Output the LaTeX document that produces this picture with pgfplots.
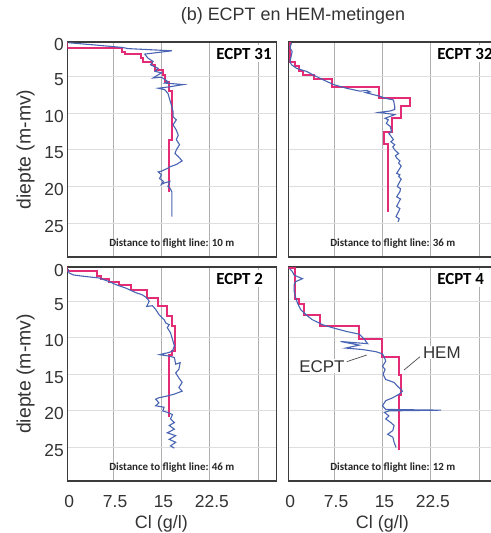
\documentclass[border=0pt]{standalone}
\usepackage{fontspec}
\setmainfont{Liberation Sans}
\newfontfamily\calfont{Carlito}
\usepackage{pgfplots}
\pgfplotsset{compat=1.18}

\definecolor{ecptblue}{RGB}{72,100,178}
\definecolor{hemred}{RGB}{228,44,118}
\definecolor{boxgray}{RGB}{60,60,60}
\definecolor{vgrid}{RGB}{175,175,178}
\definecolor{hgrid}{RGB}{222,222,225}

\pgfplotsset{
  panel/.style={
    anchor=north west, scale only axis, width=209bp,
    xmin=0.4, xmax=32.8, ymin=0.3, ymax=29.6, y dir=reverse,
    axis line style={draw=boxgray, line width=1.4pt},
    xtick={0.4,7.5,15,22.5,30}, ytick={0.3,5,10,15,20,25},
    xticklabels={}, yticklabels={},
    major tick length=0pt,
    xmajorgrids, ymajorgrids,
    x grid style={vgrid, line width=0.9pt},
    y grid style={hgrid, line width=0.9pt},
    tick label style={font=\fontsize{17.5}{18}\selectfont, text=black!80},
    label style={font=\fontsize{18}{20}\selectfont, text=black!80},
  },
  leftp/.style={yticklabels={0,5,10,15,20,25},
    yticklabel style={yshift=-3bp},
    ylabel={diepte (m-mv)},
    ylabel style={at={(axis description cs:-0.2,0.5)}, anchor=center,
      font=\fontsize{19.5}{20}\selectfont, text=black!80}},
  botp/.style={xticklabels={0,7.5,15,22.5,{}},
    xticklabel style={xshift=2bp, yshift=-11bp},
    xlabel={Cl (g/l)},
    xlabel style={at={(axis description cs:0.45,-0.2)}, anchor=center}},
  hemline/.style={color=hemred, line width=2pt, mark=none},
  ecptline/.style={color=ecptblue, line width=1.1pt, mark=none},
}

\newcommand{\panellabels}[2]{%
  \node[anchor=north west, fill=white, inner sep=3bp, font=\calfont\bfseries\fontsize{17}{18}\selectfont]
    at (axis cs:23.0,0.3) [yshift=-3bp] {#1};
  \node[anchor=center, inner sep=1bp, font=\calfont\bfseries\fontsize{11}{12}\selectfont, text=black!85]
    at (axis cs:16.6,29.6) [yshift=13bp] {Distance to flight line: #2};
}

\begin{document}
\begin{tikzpicture}

\node[font=\fontsize{18}{20}\selectfont, text=black!80] at (293bp,517bp) {(b) ECPT en HEM-metingen};

% ECPT 31
\begin{axis}[panel, leftp, height=215bp, at={(67.3bp,491bp)}]
\addplot[hemline] coordinates {(0.4,0.3)(0.4,1.15)(8.9,1.15)(8.9,1.6)(9.3,1.6)(9.3,2.0)(11.8,2.0)(11.8,2.5)(12.2,2.5)(12.2,3.0)(13.5,3.0)(13.5,3.5)(14.0,3.5)(14.0,4.1)(15.2,4.1)(15.2,4.8)(15.6,4.8)(15.6,5.8)(16.2,5.8)(16.2,7.0)(16.6,7.0)(16.6,13.6)(16.2,13.6)(16.2,20.7)};
\addplot[ecptline] coordinates {(0.6,0.4)(4.6,0.7)(9.0,1.05)(9.8,1.2)(16.6,1.5)(12.4,1.95)(12.9,2.5)(13.7,2.95)(13.3,3.4)(14.5,3.9)(14.0,4.3)(15.0,4.5)(13.7,5.2)(15.0,5.1)(16.0,5.7)(15.5,5.9)(18.4,6.1)(16.3,6.4)(14.5,6.6)(15.5,6.8)(16.0,7.3)(16.3,8.2)(16.6,9.1)(16.8,9.8)(16.8,10.5)(17.3,10.9)(16.8,11.6)(17.3,12.3)(17.6,13.0)(17.3,13.6)(17.8,14.3)(17.3,15.0)(17.1,15.5)(17.6,15.9)(18.2,16.5)(17.3,17.0)(16.3,17.3)(16.0,17.5)(15.0,17.9)(14.5,18.0)(15.0,18.4)(14.7,18.9)(15.3,19.3)(15.0,19.7)(15.5,19.5)(16.3,19.3)(16.0,20.0)(16.3,20.2)(16.6,20.7)(16.6,24.1)};
\panellabels{ECPT 31}{10 m}
\end{axis}

% ECPT 32
\begin{axis}[panel, height=215bp, at={(288.3bp,491bp)}]
\addplot[hemline] coordinates {(0.66,0.3)(0.66,3.0)(1.4,3.0)(1.4,3.6)(2.0,3.6)(2.0,4.3)(2.7,4.3)(2.7,4.8)(4.4,4.8)(4.4,5.4)(7.1,5.4)(7.1,6.5)(14.4,6.5)(14.4,7.9)(19.2,7.9)(19.2,9.0)(17.9,9.0)(17.9,10.6)(16.4,10.6)(16.4,12.6)(15.3,12.6)(15.3,14.2)(15.9,14.2)(15.9,23.4)};
\addplot[ecptline] coordinates {(0.9,0.4)(0.66,1.1)(1.0,1.6)(0.9,2.0)(0.66,3.0)(0.9,3.4)(1.7,3.9)(3.2,4.3)(4.3,4.8)(5.8,5.45)(7.4,6.1)(9.4,6.6)(11.5,7.0)(12.6,6.9)(13.1,7.1)(12.4,7.2)(14.6,7.7)(15.6,8.0)(16.7,8.2)(16.9,9.1)(16.9,9.5)(16.2,9.7)(14.4,9.9)(16.2,10.1)(16.9,10.2)(15.4,10.7)(15.9,10.9)(15.6,11.4)(16.2,11.8)(16.4,12.5)(16.0,12.8)(16.2,13.0)(16.7,13.6)(16.3,13.9)(16.9,14.3)(16.6,14.6)(16.9,15.0)(17.5,15.5)(17.0,15.8)(17.2,16.1)(17.7,16.5)(17.5,16.8)(17.9,17.2)(17.7,17.5)(17.2,18.2)(17.7,18.4)(17.5,18.6)(17.9,19.0)(17.7,19.3)(17.3,20.0)(17.8,20.3)(17.7,20.7)(17.2,21.4)(17.8,21.7)(17.6,22.0)(17.2,22.7)(17.7,23.0)(17.5,23.4)(17.1,24.1)(17.6,24.4)(17.4,24.8)};
\panellabels{ECPT 32}{36 m}
\end{axis}

% ECPT 2
\begin{axis}[panel, leftp, botp, height=214bp, at={(67.3bp,266bp)}]
\addplot[hemline] coordinates {(0.4,0.3)(0.4,0.8)(5.0,0.8)(5.0,1.5)(5.6,1.5)(5.6,1.9)(6.9,1.9)(6.9,2.3)(8.4,2.3)(8.4,2.8)(10.2,2.8)(10.2,3.5)(12.8,3.5)(12.8,4.5)(14.4,4.5)(14.4,5.6)(15.9,5.6)(15.9,7.0)(16.7,7.0)(16.7,8.4)(17.1,8.4)(17.1,11.8)(16.6,11.8)(16.6,12.3)(16.2,12.3)(16.2,20.9)};
\addplot[ecptline] coordinates {(0.55,0.6)(0.65,1.1)(1.4,1.4)(3.2,1.6)(5.3,1.8)(6.9,2.3)(7.9,2.7)(9.5,3.2)(11.0,3.8)(12.0,4.1)(12.7,4.5)(13.1,5.0)(12.7,5.7)(13.6,5.6)(14.1,6.1)(14.6,6.8)(15.4,7.5)(15.7,8.0)(16.2,8.2)(15.9,8.6)(16.4,9.3)(16.7,10.2)(17.0,11.1)(16.7,11.8)(16.2,12.0)(14.7,12.3)(16.2,12.5)(17.0,12.7)(17.2,13.6)(17.9,13.4)(17.7,14.3)(17.2,14.8)(17.7,15.5)(18.2,16.1)(17.7,16.8)(18.2,17.3)(17.0,17.7)(15.7,18.0)(14.6,18.2)(14.1,18.4)(14.6,18.9)(14.1,19.3)(15.4,19.5)(15.2,20.0)(15.9,20.2)(16.7,20.5)(16.4,21.1)(17.0,21.6)(16.2,22.0)(17.0,22.5)(15.9,23.0)(17.2,23.4)(16.2,23.9)(17.2,24.3)(16.4,24.8)(17.0,25.1)};
\panellabels{ECPT 2}{46 m}
\end{axis}

% ECPT 4
\begin{axis}[panel, botp, height=214bp, at={(288.3bp,266bp)}]
\addplot[hemline] coordinates {(0.4,0.5)(1.5,0.5)(1.5,4.7)(2.0,4.7)(2.0,5.4)(2.9,5.4)(2.9,6.9)(5.3,6.9)(5.3,8.4)(11.3,8.4)(11.3,10.2)(15.0,10.2)(15.0,12.6)(17.5,12.6)(17.5,15.1)(17.9,15.1)(17.9,17.8)(17.5,17.8)(17.5,25.3)};
\addplot[ecptline] coordinates {(0.62,0.55)(1.0,0.9)(1.3,1.4)(1.8,1.6)(2.6,1.9)(1.55,2.3)(1.3,2.7)(1.3,3.6)(1.55,4.5)(1.8,5.2)(2.3,6.1)(3.1,6.8)(4.1,7.5)(5.7,8.2)(7.2,8.6)(9.3,9.1)(11.4,9.5)(12.2,10.2)(12.7,10.8)(8.5,10.5)(11.4,11.0)(9.3,11.4)(11.9,11.6)(14.0,11.9)(15.0,12.2)(15.3,12.7)(15.5,13.2)(15.0,13.9)(15.4,14.3)(15.1,15.0)(15.5,15.7)(16.8,16.1)(17.3,16.6)(18.1,17.3)(17.6,17.7)(16.6,18.2)(15.5,18.6)(15.0,19.3)(15.5,19.8)(24.1,19.9)(16.0,20.0)(15.3,20.2)(16.0,20.7)(15.5,21.1)(16.3,21.6)(16.8,22.0)(16.6,22.7)(15.8,23.2)(16.6,23.6)(16.8,24.3)(17.1,25.0)};
\panellabels{ECPT 4}{12 m}
\node[fill=white, inner sep=1bp, font=\fontsize{17}{18}\selectfont, text=black!80] at (axis cs:5.6,13.9) {ECPT};
\draw[black!70, line width=0.7pt] (axis cs:9.45,13.27) -- (axis cs:12.55,12.35);
\node[fill=white, inner sep=1bp, font=\fontsize{17}{18}\selectfont, text=black!80] at (axis cs:24.2,12.0) {HEM};
\draw[black!70, line width=0.7pt] (axis cs:20.8,12.59) -- (axis cs:18.34,14.4);
\end{axis}

\pgfresetboundingbox
\path[use as bounding box] (0,0) rectangle (491bp,533bp);
\end{tikzpicture}
\end{document}
